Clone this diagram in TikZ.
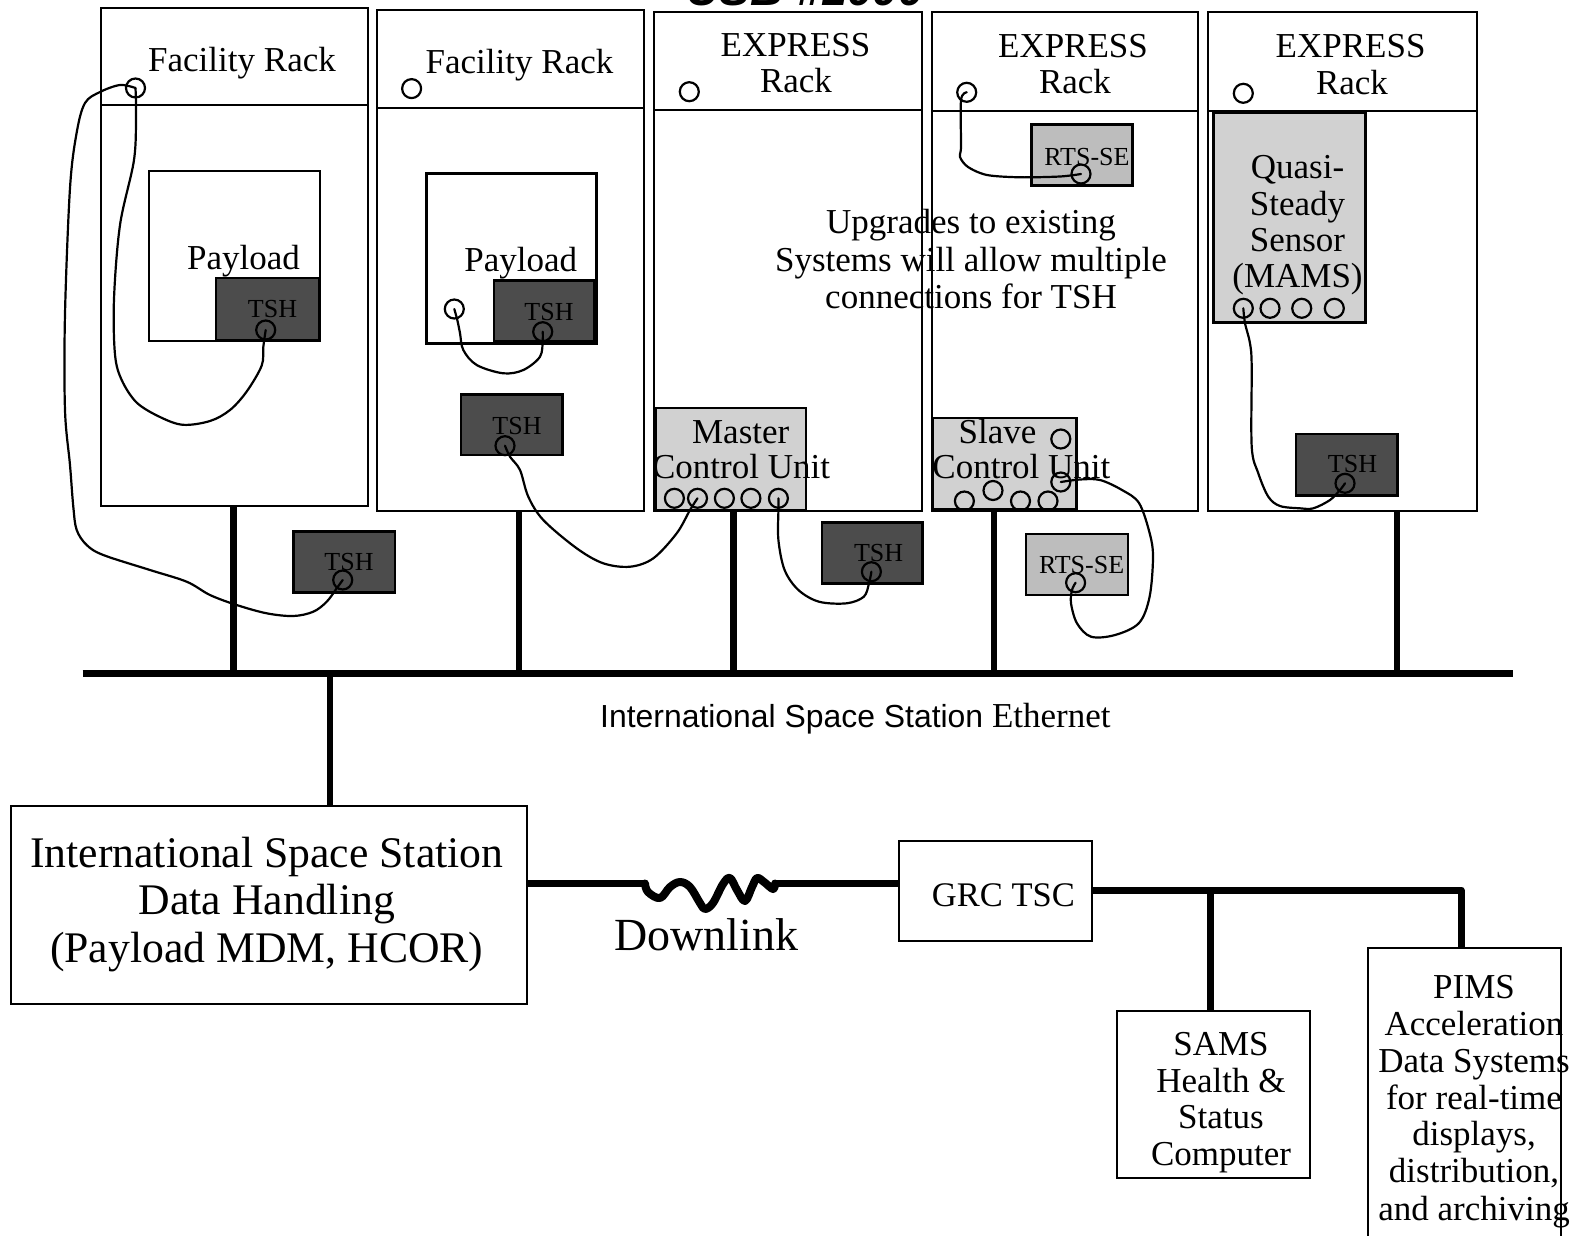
\documentclass[tikz,border=0pt]{standalone}
\usepackage{fontspec}
\setmainfont{Liberation Serif}
\newfontfamily\sansf{Liberation Sans}
\newcommand\bx[6][]{\node[#1,anchor=north west,minimum width={#4-#2},minimum height={#5-#3},inner sep=0pt,outer sep=0pt] (#6) at (#2,#3) {};}
\begin{document}
\begin{tikzpicture}[x=1pt,y=-1pt,
  rack/.style={draw,line width=2.5pt},
  rackline/.style={line width=2.5pt},
  plainbox/.style={draw,line width=2.5pt,fill=white},
  darkbox/.style={draw,line width=2.5pt,fill=black!70},
  lightbox/.style={draw,line width=2.5pt,fill=black!18},
  rtsbox/.style={draw,line width=2.5pt,fill=black!26},
  port/.style={circle,draw,line width=2.2pt,minimum size=19pt,inner sep=0pt},
  cable/.style={line width=2.2pt,line join=round,line cap=round},
  bus/.style={line width=7pt},
  stub/.style={line width=6.5pt},
  link/.style={line width=7pt,line join=round},
  lab/.style={anchor=base,inner sep=0pt,font=\fontsize{35}{37}\selectfont},
  smalllab/.style={anchor=base,inner sep=0pt,font=\fontsize{26}{27}\selectfont},
  isslab/.style={anchor=base,inner sep=0pt,font=\fontsize{43.7}{47}\selectfont}]
\useasboundingbox (0,0) rectangle (1578,1235);

% title (cut off at top)
\node[anchor=base west,inner sep=0pt,font=\sansf\bfseries\itshape\fontsize{46}{46}\selectfont] (title) at (686,5) {USB \#1000};

% racks
\bx[rack]{101}{8}{368}{506}{r1}
\bx[rack]{377}{10}{644}{511}{r2}
\bx[rack]{654}{12}{922}{511}{r3}
\bx[rack]{932}{12}{1198}{511}{r4}
\bx[rack]{1208}{12}{1477}{511}{r5}
\draw[rackline] (r1.west |- 0,105) -- (r1.east |- 0,105);
\draw[rackline] (r2.west |- 0,108) -- (r2.east |- 0,108);
\draw[rackline] (r3.west |- 0,110) -- (r3.east |- 0,110);
\draw[rackline] (r4.west |- 0,111) -- (r4.east |- 0,111);
\draw[rackline] (r5.west |- 0,111) -- (r5.east |- 0,111);

% inner boxes
\bx[plainbox]{149}{171}{320}{341}{pay1}
\bx[darkbox]{216}{278}{319}{340}{tsh1}
\bx[darkbox]{293.3}{531.7}{395}{592.7}{tsh1b}
\bx[plainbox]{426.7}{173.3}{596.7}{343.3}{pay2}
\bx[darkbox]{494}{280.7}{594}{341.7}{tsh2}
\bx[darkbox]{461}{394.3}{562.3}{455}{tsh2b}
\bx[lightbox]{656}{408}{806}{510}{mcu}
\bx[darkbox]{821.8}{522.3}{922.4}{583.3}{tsh3}
\bx[lightbox]{933}{418}{1076.6}{509}{slave}
\bx[rtsbox]{1026}{534}{1128}{595}{rts2}
\bx[rtsbox]{1031.7}{124.3}{1132.3}{185.7}{rts1}
\bx[lightbox]{1213.3}{113}{1365.7}{322.7}{quasi}
\bx[darkbox]{1296}{434}{1397.3}{495.7}{tsh5}

% rack texts
\node[lab] (tr1) at (242,71) {Facility Rack};
\node[lab] (tr2) at (519.5,73.5) {Facility Rack};
\node[lab] (tr3a) at (795.5,56.7) {EXPRESS};
\node[lab] (tr3b) at (796,92.7) {Rack};
\node[lab] (tr4a) at (1073,57) {EXPRESS};
\node[lab] (tr4b) at (1075,93) {Rack};
\node[lab] (tr5a) at (1350.6,57.4) {EXPRESS};
\node[lab] (tr5b) at (1352,94) {Rack};
\node[lab] (tp1) at (243.5,269.5) {Payload};
\node[lab] (tp2) at (520.8,271.7) {Payload};
\node[smalllab] (tt1) at (272.5,317) {TSH};
\node[smalllab] (tt1b) at (349,570.7) {TSH};
\node[smalllab] (tt2) at (549,320) {TSH};
\node[smalllab] (tt2b) at (517,434) {TSH};
\node[smalllab] (tt3) at (878.6,561.7) {TSH};
\node[smalllab] (tt5) at (1352.5,472.7) {TSH};
\node[smalllab] (trts1) at (1087,165) {RTS-SE};
\node[smalllab] (trts2) at (1081.6,573.3) {RTS-SE};
\node[lab] (tm1) at (740.7,443) {Master};
\node[lab] (tm2) at (741,478.3) {Control Unit};
\node[lab] (ts1) at (997.5,443.3) {Slave};
\node[lab] (ts2) at (1021.4,478) {Control Unit};
\node[lab] (tq1) at (1297.5,178.3) {Quasi-};
\node[lab] (tq2) at (1297.5,215) {Steady};
\node[lab] (tq3) at (1297.5,251.7) {Sensor};
\node[lab] (tq4) at (1297.5,287) {(MAMS)};
\node[lab] (tu1) at (971,233.5) {Upgrades to existing};
\node[lab] (tu2) at (971,271) {Systems will allow multiple};
\node[lab] (tu3) at (971,308) {connections for TSH};

% ports
\node[port] (h1) at (135.5,88) {};
\node[port] (h2) at (411.6,88.6) {};
\node[port] (h3) at (689.3,91.7) {};
\node[port] (h4) at (966.7,92.3) {};
\node[port] (h5) at (1243.3,93.3) {};
\node[port] (p1t) at (265.7,330) {};
\node[port] (b1t) at (342.7,580) {};
\node[port] (p2c) at (454.3,309) {};
\node[port] (p2t) at (542.7,331.7) {};
\node[port] (m2t) at (505,445.7) {};
\node[port] (mc1) at (674.4,498.3) {};
\node[port] (mc2) at (697.5,498.3) {};
\node[port] (mc3) at (724.4,498.3) {};
\node[port] (mc4) at (750.9,498.3) {};
\node[port] (mc5) at (778.4,498.3) {};
\node[port] (m3t) at (871.4,571.7) {};
\node[port] (sc1) at (1060.8,439) {};
\node[port] (sc2) at (1060.8,482) {};
\node[port] (sc3) at (993,490.5) {};
\node[port] (sc4) at (964.4,501) {};
\node[port] (sc5) at (1020.5,501) {};
\node[port] (sc6) at (1048,501) {};
\node[port] (rts1c) at (1081,174) {};
\node[port] (rts2c) at (1075.6,582.7) {};
\node[port] (q1) at (1243.3,308.3) {};
\node[port] (q2) at (1270,308.3) {};
\node[port] (q3) at (1301.7,308.3) {};
\node[port] (q4) at (1334.3,308.3) {};
\node[port] (r5t) at (1345,483.3) {};

% cables
\draw[cable] plot[smooth,tension=0.55] coordinates {(p1t.center) (263.3,347) (261.7,365.6) (246.7,391.5) (230,410) (210,421) (183,424.8) (160,417) (136.7,402.6) (121.7,380) (115,354.5) (114,299) (120,225) (134,160) (136,114) (h1.center)};
\draw[cable] plot[smooth,tension=0.55] coordinates {(h1.center) (120,85) (100,92) (85,103) (76.7,132.5) (70,188) (65,314) (65,410) (70,465) (73.3,506.7) (76.7,530) (86.7,545) (103.3,555) (150,570) (186.7,581.7) (210,595) (236.7,605) (266.7,613.3) (293.3,616) (313.3,611.7) (326.7,601.7) (336.7,588.3) (b1t.center)};
\draw[cable] plot[smooth,tension=0.55] coordinates {(p2c.center) (457.3,320) (460,333) (463.3,350) (476.7,365) (503.3,373.3) (523.3,370) (540,356.7) (542.7,340) (p2t.center)};
\draw[cable] plot[smooth,tension=0.55] coordinates {(m2t.center) (510,456.7) (520,470) (528.3,496.7) (543.3,520) (576.7,548.3) (603.3,563.3) (630,566.7) (653.3,558.3) (676.7,533.3) (690,510) (mc2.center)};
\draw[cable] plot[smooth,tension=0.55] coordinates {(mc5.center) (778.4,510) (778.4,540) (784.6,570) (798.4,590) (819,601.7) (846.6,603.3) (863.8,596.7) (869,583.3) (m3t.center)};
\draw[cable] plot[smooth,tension=0.5] coordinates {(h4.center) (961,100) (961,146.7) (960,157) (968,167) (987,175) (1020,177.3) (1060,176.5) (rts1c.center)};
\draw[cable] plot[smooth,tension=0.55] coordinates {(sc2.center) (1080,479.5) (1100,480) (1122,490) (1139,503) (1149.6,533) (1153,556.7) (1149.6,596.7) (1139,623) (1115,635) (1091,636.7) (1077,623.3) (1071,603.3) (1072,590) (rts2c.center)};
\draw[cable] plot[smooth,tension=0.55] coordinates {(q1.center) (1245,323.3) (1250,343.3) (1251.7,366.7) (1251.7,446.7) (1258.3,473.3) (1268.3,496.7) (1280,506) (1300,508.3) (1313.3,508.3) (1330,500) (1340,490) (r5t.center)};

% ethernet bus
\coordinate (busL) at (82.5,673);
\coordinate (busR) at (1512.6,673);
\draw[bus] (busL) -- (busR);
\draw[stub] (233.5,0 |- r1.south) -- (233.5,0 |- busL);
\draw[stub] (519,0 |- r2.south) -- (519,0 |- busL);
\draw[stub] (733.5,0 |- mcu.south) -- (733.5,0 |- busL);
\draw[stub] (994,0 |- slave.south) -- (994,0 |- busL);
\draw[stub] (1397,0 |- r5.south) -- (1397,0 |- busL);
\node[anchor=base west,inner sep=0pt,font=\fontsize{35}{37}\selectfont] (ethlab) at (600,727) {{\sansf\fontsize{31.9}{35}\selectfont International Space Station} Ethernet};

% ground side
\bx[plainbox]{11}{806}{527}{1004}{iss}
\bx[plainbox]{899}{841}{1092}{941}{grc}
\bx[plainbox]{1117}{1011}{1310}{1178}{sams}
\bx[plainbox]{1368}{948}{1561}{1262}{pims}
\draw[line width=5.5pt] (330,0 |- iss.north) -- (330,0 |- busL);

\node[isslab] (ti1) at (266.8,867) {International Space Station};
\node[isslab] (ti2) at (266.8,914.5) {Data Handling};
\node[isslab] (ti3) at (266.8,962) {(Payload MDM, HCOR)};
\node[anchor=base,inner sep=0pt,font=\fontsize{46}{48}\selectfont] (tdl) at (706.4,950) {Downlink};
\node[anchor=base,inner sep=0pt,font=\fontsize{34.5}{37}\selectfont] (tgrc) at (1003.4,906.7) {GRC TSC};
\node[lab] (tsa1) at (1221,1055) {SAMS};
\node[lab] (tsa2) at (1221,1092) {Health \&};
\node[lab] (tsa3) at (1221,1128) {Status};
\node[lab] (tsa4) at (1221,1165) {Computer};
\node[lab] (tpi1) at (1474,998) {PIMS};
\node[lab] (tpi2) at (1474,1035) {Acceleration};
\node[lab] (tpi3) at (1474,1072) {Data Systems};
\node[lab] (tpi4) at (1474,1109) {for real-time};
\node[lab] (tpi5) at (1474,1145) {displays,};
\node[lab] (tpi6) at (1474,1182) {distribution,};
\node[lab] (tpi7) at (1474,1220) {and archiving};

\coordinate (dlA) at (645,883.5);
\coordinate (dlB) at (775,883.5);
\draw[link] (iss.east |- dlA) -- (dlA);
\draw[line width=8pt,line cap=round,line join=round] plot[smooth,tension=0.6] coordinates {(dlA) (648,892) (660,898) (670,887) (680,882) (690,887) (700,903) (705,909) (713,903) (723,884) (730,878) (737,890) (745,901) (752,887) (757,878) (764,882) (773,889) (dlB)};
\draw[link] (dlB) -- (grc.west |- dlB);
\coordinate (gr1) at (1461,890);
\draw[link] (grc.east |- gr1) -- (gr1) -- (gr1 |- pims.north);
\draw[link] (1210,890) -- (1210,0 |- sams.north);
\end{tikzpicture}
\end{document}
